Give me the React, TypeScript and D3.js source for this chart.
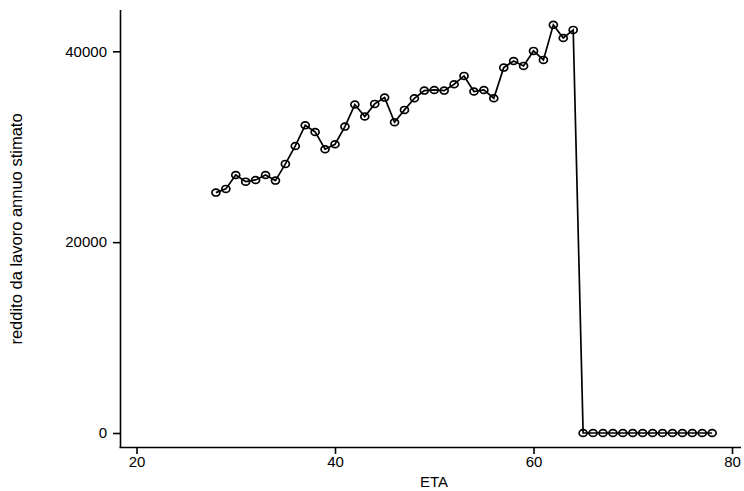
import React, { useEffect, useRef } from 'react';
import * as d3 from 'd3';

const ages = [
  28, 29, 30, 31, 32, 33, 34, 35, 36, 37, 38, 39, 40, 41, 42, 43, 44, 45, 46, 47, 48, 49, 50, 51, 52, 53,
  54, 55, 56, 57, 58, 59, 60, 61, 62, 63, 64, 65, 66, 67, 68, 69, 70, 71, 72, 73, 74, 75, 76, 77, 78,
];
const reddito = [
  25190, 25580, 27040, 26340, 26520, 27040, 26450, 28200, 30080, 32250, 31550, 29740, 30260, 32110,
  34420, 33160, 34490, 35150, 32570, 33860, 35080, 35880, 35950, 35880, 36550, 37420, 35780, 35950,
  35080, 38290, 38990, 38470, 40040, 39100, 42770, 41400, 42240, 0, 0, 0, 0, 0, 0, 0, 0, 0, 0, 0, 0, 0,
  0,
];
const xTicks = [20, 40, 60, 80];
const yTicks = [0, 20000, 40000];

const App = () => {
  const ref = useRef<SVGSVGElement | null>(null);

  useEffect(() => {
    if (!ref.current) return;
    const svg = d3.select(ref.current);
    svg.selectAll('*').remove();

    const x = d3.scaleLinear().domain([20, 80]).range([136.5, 732]);
    const y = d3.scaleLinear().domain([0, 40000]).range([433, 51.3]);
    const data = ages.map((a, i) => ({ age: a, v: reddito[i] }));
    const font = '"Liberation Sans", Arial, sans-serif';

    // y axis
    const yAxis = svg
      .append('g')
      .attr('transform', 'translate(120,0)')
      .call(d3.axisLeft(y).tickValues(yTicks).tickSize(7).tickPadding(6).tickFormat(d3.format('d')));
    yAxis.select('.domain').attr('d', 'M0.5,10V447.5');
    yAxis.selectAll('line').attr('stroke-width', 1.6);
    yAxis.select('.domain').attr('stroke-width', 1.6);
    yAxis.selectAll('text').style('font-family', font).style('font-size', '15px').attr('fill', '#000');

    // x axis
    const xAxis = svg
      .append('g')
      .attr('transform', 'translate(0,447)')
      .call(d3.axisBottom(x).tickValues(xTicks).tickSize(7).tickPadding(2).tickFormat(d3.format('d')));
    xAxis.select('.domain').attr('d', 'M119.5,0.5H741');
    xAxis.selectAll('line').attr('stroke-width', 1.6);
    xAxis.select('.domain').attr('stroke-width', 1.6);
    xAxis.selectAll('text').style('font-family', font).style('font-size', '15px').attr('fill', '#000');

    svg
      .append('text')
      .attr('x', 434)
      .attr('y', 487)
      .attr('text-anchor', 'middle')
      .style('font-family', font)
      .style('font-size', '15px')
      .text('ETA');

    svg
      .append('text')
      .attr('transform', 'translate(22,229) rotate(-90)')
      .attr('text-anchor', 'middle')
      .style('font-family', font)
      .style('font-size', '16.5px')
      .text('reddito da lavoro annuo stimato');

    const line = d3
      .line<{ age: number; v: number }>()
      .x(d => x(d.age))
      .y(d => y(d.v));

    svg
      .append('path')
      .datum(data)
      .attr('d', line)
      .attr('fill', 'none')
      .attr('stroke', '#000')
      .attr('stroke-width', 1.7);

    svg
      .selectAll('.pt')
      .data(data)
      .enter()
      .append('ellipse')
      .attr('class', 'pt')
      .attr('cx', d => x(d.age))
      .attr('cy', d => y(d.v))
      .attr('rx', 4)
      .attr('ry', 3.4)
      .attr('fill', 'none')
      .attr('stroke', '#000')
      .attr('stroke-width', 1.7);
  }, []);

  return (
    <div>
      <svg ref={ref} width={744} height={491} style={{ display: 'block', position: 'absolute', left: 0, top: 0, background: '#fff' }} />
    </div>
  );
};

export default App;
